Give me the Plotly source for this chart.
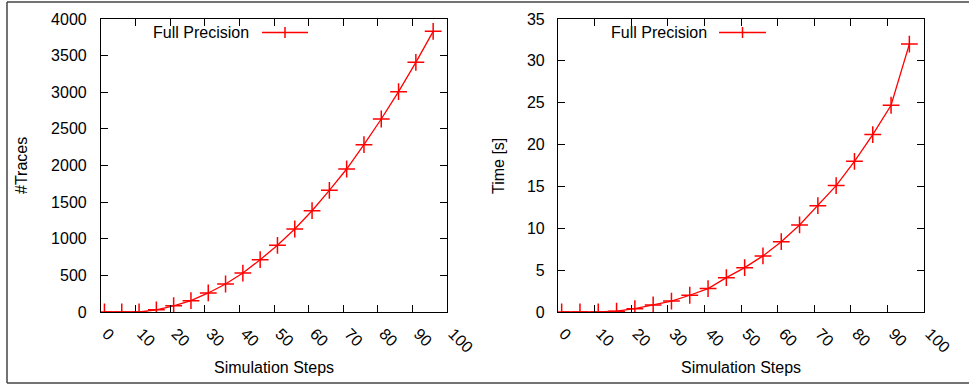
import plotly.graph_objects as go

# ---- data ----
steps = [1, 6, 11, 16, 21, 26, 31, 36, 41, 46, 51, 56, 61, 66, 71, 76, 81, 86, 91, 96]
num_traces = [0, 0, 0, 30, 85, 155, 260, 382, 532, 714, 910, 1133, 1383, 1661, 1952, 2284, 2635, 3008, 3408, 3832]
time_s = [0, 0, 0, 0.1, 0.4, 0.85, 1.3, 2.0, 2.8, 4.1, 5.3, 6.7, 8.4, 10.4, 12.7, 15.1, 18.0, 21.2, 24.7, 32.0]
x_ticks = [0, 10, 20, 30, 40, 50, 60, 70, 80, 90, 100]
traces_ticks = [0, 500, 1000, 1500, 2000, 2500, 3000, 3500, 4000]
time_ticks = [0, 5, 10, 15, 20, 25, 30, 35]
series_name = "Full Precision"
x_title = "Simulation Steps"
y_titles = ["#Traces", "Time [s]"]

W, H = 969, 385
FONT = "Liberation Sans, Arial, Helvetica, sans-serif"
RED = "#ff0000"


def px(x):
    return x / W


def py(y):
    return 1 - y / H


fig = go.Figure()
fig.add_trace(go.Scatter(x=steps, y=num_traces, mode="lines+markers", name=series_name,
                         line=dict(color=RED, width=1.3),
                         marker=dict(symbol="cross-thin", size=12, line=dict(color=RED, width=1.5)),
                         xaxis="x", yaxis="y", showlegend=False))
fig.add_trace(go.Scatter(x=steps, y=time_s, mode="lines+markers", name=series_name,
                         line=dict(color=RED, width=1.3),
                         marker=dict(symbol="cross-thin", size=12, line=dict(color=RED, width=1.5)),
                         xaxis="x2", yaxis="y2", showlegend=False))

axis_common = dict(showline=True, linecolor="black", linewidth=1.2, mirror="allticks",
                   ticks="inside", ticklen=7, tickcolor="black", tickwidth=1,
                   showgrid=False, zeroline=False, automargin=False,
                   tickfont=dict(family=FONT, size=16, color="black"))
xaxis_extra = dict(tickangle=45, ticklabelstandoff=5, ticklabelshift=6)

ydom = [py(312), py(19)]
fig.update_layout(
    width=W, height=H,
    margin=dict(l=0, r=0, t=0, b=0, pad=0),
    paper_bgcolor="white", plot_bgcolor="white",
    font=dict(family=FONT, size=16, color="black"),
    xaxis=dict(domain=[px(101), px(447)], range=[0, 100], tickvals=x_ticks,
               anchor="y", **xaxis_extra, **axis_common),
    yaxis=dict(domain=ydom, range=[0, 4000], tickvals=traces_ticks, anchor="x",
               ticklabelstandoff=10, **axis_common),
    xaxis2=dict(domain=[px(558), px(924)], range=[0, 100], tickvals=x_ticks,
                anchor="y2", **xaxis_extra, **axis_common),
    yaxis2=dict(domain=ydom, range=[0, 35], tickvals=time_ticks, anchor="x2",
                ticklabelstandoff=9, **axis_common),
)

annotations = []
shapes = []

# axis titles
for xc, yt in [(22, y_titles[0]), (499, y_titles[1])]:
    annotations.append(dict(x=px(xc), y=py(166), xref="paper", yref="paper", text=yt,
                            textangle=-90, showarrow=False, xanchor="center", yanchor="middle",
                            font=dict(family=FONT, size=16)))
for xc in [274, 741]:
    annotations.append(dict(x=px(xc), y=py(367), xref="paper", yref="paper", text=x_title,
                            showarrow=False, xanchor="center", yanchor="middle",
                            font=dict(family=FONT, size=16)))

# legends (text left, sample right)
for text_end, l0, l1 in [(251, 262, 308), (709, 719, 766)]:
    annotations.append(dict(x=px(text_end), y=py(32.5), xref="paper", yref="paper", text=series_name,
                            showarrow=False, xanchor="right", yanchor="middle",
                            font=dict(family=FONT, size=16)))
    shapes.append(dict(type="line", xref="paper", yref="paper", x0=px(l0), x1=px(l1),
                       y0=py(32.5), y1=py(32.5), line=dict(color=RED, width=1.3)))
    mc = (l0 + l1) / 2
    shapes.append(dict(type="line", xref="paper", yref="paper", x0=px(mc), x1=px(mc),
                       y0=py(27), y1=py(38), line=dict(color=RED, width=1.5)))

# outer frame (left, top, bottom)
frame = dict(color="#444444", width=1.5)
shapes.append(dict(type="line", xref="paper", yref="paper", x0=px(7), x1=px(7), y0=py(2), y1=py(383), line=frame))
shapes.append(dict(type="line", xref="paper", yref="paper", x0=px(7), x1=1.01, y0=py(2), y1=py(2), line=frame))
shapes.append(dict(type="line", xref="paper", yref="paper", x0=px(7), x1=1.01, y0=py(383), y1=py(383), line=frame))

fig.update_layout(annotations=annotations, shapes=shapes)
fig.write_html("out.html",
               config={"displayModeBar": False},
               post_script="document.body.style.margin='0';document.body.style.padding='0';"
                           "document.body.style.overflow='hidden';")
